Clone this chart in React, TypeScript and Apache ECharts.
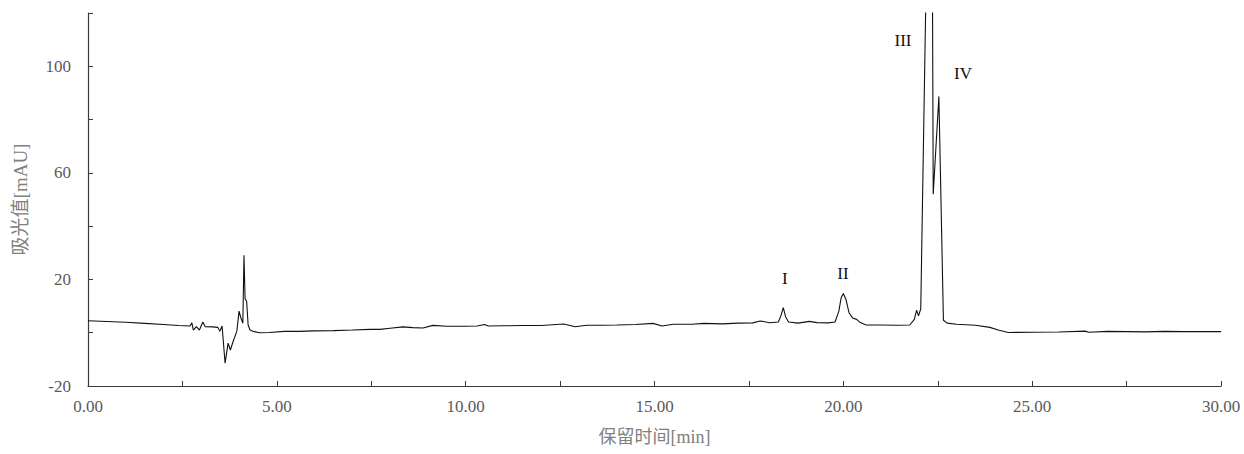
import React, { useEffect, useRef } from "react";
import * as echarts from "echarts";

// retention time [min]
const times: number[] = [
  0.0, 0.5, 1.0, 1.5, 2.0, 2.4, 2.7, 2.75, 2.79, 2.87, 2.95, 3.04, 3.1, 3.3, 3.44, 3.49, 3.55,
  3.63, 3.71, 3.77, 3.84, 3.94, 4.0, 4.05, 4.1, 4.13, 4.16, 4.2, 4.24, 4.29, 4.4, 4.55, 4.8,
  5.2, 5.6, 5.96, 6.5, 7.0, 7.47, 7.73, 8.0, 8.34, 8.6, 8.87, 9.13, 9.5, 10.0, 10.3, 10.5,
  10.6, 11.0, 11.5, 12.0, 12.6, 12.9, 13.2, 13.6, 14.0, 14.5, 14.96, 15.2, 15.5, 16.0, 16.3,
  16.8, 17.2, 17.6, 17.8, 18.05, 18.28, 18.35, 18.41, 18.47, 18.55, 18.8, 19.1, 19.3, 19.6,
  19.78, 19.88, 19.94, 20.0, 20.07, 20.15, 20.25, 20.35, 20.45, 20.6, 21.0, 21.4, 21.76,
  21.88, 21.94, 21.99, 22.05, 22.19, 22.36, 22.38, 22.53, 22.65, 22.75, 23.0, 23.5, 23.88,
  24.1, 24.37, 25.0, 25.7, 26.4, 26.5, 27.0, 27.5, 28.0, 28.5, 29.0, 29.5, 30.0,
];

// absorbance [mAU]
const absorbance: number[] = [
  4.5, 4.2, 3.9, 3.5, 3.1, 2.7, 2.5, 3.7, 1.0, 2.3, 1.0, 4.0, 2.3, 2.2, 2.0, 0.5, 2.5,
  -11.4, -3.9, -6.5, -3.4, 0.5, 8.1, 5.5, 3.6, 29.1, 12.6, 11.9, 2.9, 1.0, 0.4, 0.0, 0.1,
  0.5, 0.5, 0.7, 0.8, 1.0, 1.25, 1.25, 1.7, 2.2, 1.9, 1.75, 2.75, 2.4, 2.4, 2.5, 3.1,
  2.5, 2.6, 2.7, 2.7, 3.25, 2.25, 2.8, 2.8, 2.9, 3.1, 3.5, 2.5, 3.2, 3.2, 3.5,
  3.3, 3.6, 3.7, 4.4, 3.75, 4.0, 6.5, 9.4, 6.0, 4.0, 3.6, 4.25, 3.8, 3.7,
  4.0, 8.0, 13.0, 14.75, 12.5, 7.5, 5.5, 5.0, 3.8, 2.9, 2.9, 2.8, 2.9,
  5.0, 8.5, 6.3, 9.0, 130, 130, 52, 88.7, 4.7, 3.6, 3.2, 2.8, 2.0,
  1.0, 0.1, 0.2, 0.25, 0.6, 0.2, 0.5, 0.4, 0.3, 0.5, 0.4, 0.4, 0.4,
];

// peak annotations
const peakNames: string[] = ["I", "II", "III", "IV"];
const peakLabelTimes: number[] = [18.45, 19.99, 21.58, 23.17];
const peakLabelValues: number[] = [20.5, 22.4, 109.8, 97.4];

const X_NAME = "保留时间[min]";
const Y_NAME = "吸光值[mAU]";

export default function App() {
  const ref = useRef<HTMLDivElement>(null);

  useEffect(() => {
    document.body.style.margin = "0";
    if (!ref.current) return;
    const chart = echarts.init(ref.current, undefined, { renderer: "svg" });
    const serif = "Liberation Serif, Noto Sans CJK SC, serif";
    const axisColor = "#3a3a3a";
    const labelColor = "#5a5a5a";
    const nameColor = "#808080";

    chart.setOption({
      animation: false,
      backgroundColor: "#ffffff",
      grid: { left: 88, right: 23, top: 13, bottom: 68, containLabel: false },
      xAxis: {
        type: "value",
        min: 0,
        max: 30,
        interval: 2.5,
        name: X_NAME,
        nameLocation: "middle",
        nameGap: 42,
        nameTextStyle: { color: nameColor, fontSize: 18, fontFamily: serif },
        axisLine: { show: true, onZero: false, lineStyle: { color: axisColor, width: 1.2 } },
        axisTick: { show: true, inside: true, length: 5, lineStyle: { color: axisColor } },
        splitLine: { show: false },
        axisLabel: {
          color: labelColor,
          fontSize: 17,
          fontFamily: serif,
          margin: 12,
          formatter: (v: number) => (Math.abs(v % 5) < 1e-9 ? v.toFixed(2) : ""),
        },
      },
      yAxis: {
        type: "value",
        min: -20,
        max: 120,
        interval: 20,
        name: Y_NAME,
        nameLocation: "middle",
        nameGap: 58,
        nameRotate: 90,
        nameTextStyle: { color: nameColor, fontSize: 19, fontFamily: serif },
        axisLine: { show: true, onZero: false, lineStyle: { color: axisColor, width: 1.2 } },
        axisTick: { show: true, inside: true, length: 5, lineStyle: { color: axisColor } },
        splitLine: { show: false },
        axisLabel: {
          color: labelColor,
          fontSize: 17,
          fontFamily: serif,
          margin: 17,
          formatter: (v: number) => ((v + 20) % 40 === 0 ? String(v) : ""),
        },
      },
      series: [
        {
          type: "line",
          data: times.map((t, i) => [t, absorbance[i]]),
          showSymbol: false,
          symbol: "none",
          clip: true,
          lineStyle: { color: "#111111", width: 1.1 },
          markPoint: {
            symbol: "circle",
            symbolSize: 0,
            silent: true,
            label: {
              show: true,
              position: "inside",
              color: "#111111",
              fontSize: 17,
              fontFamily: serif,
              formatter: (p: any) => p.name,
            },
            data: peakNames.map((n, i) => ({
              name: n,
              coord: [peakLabelTimes[i], peakLabelValues[i]],
            })),
          },
        },
      ],
    });
    return () => chart.dispose();
  }, []);

  return <div ref={ref} style={{ width: 1244, height: 454 }} />;
}
